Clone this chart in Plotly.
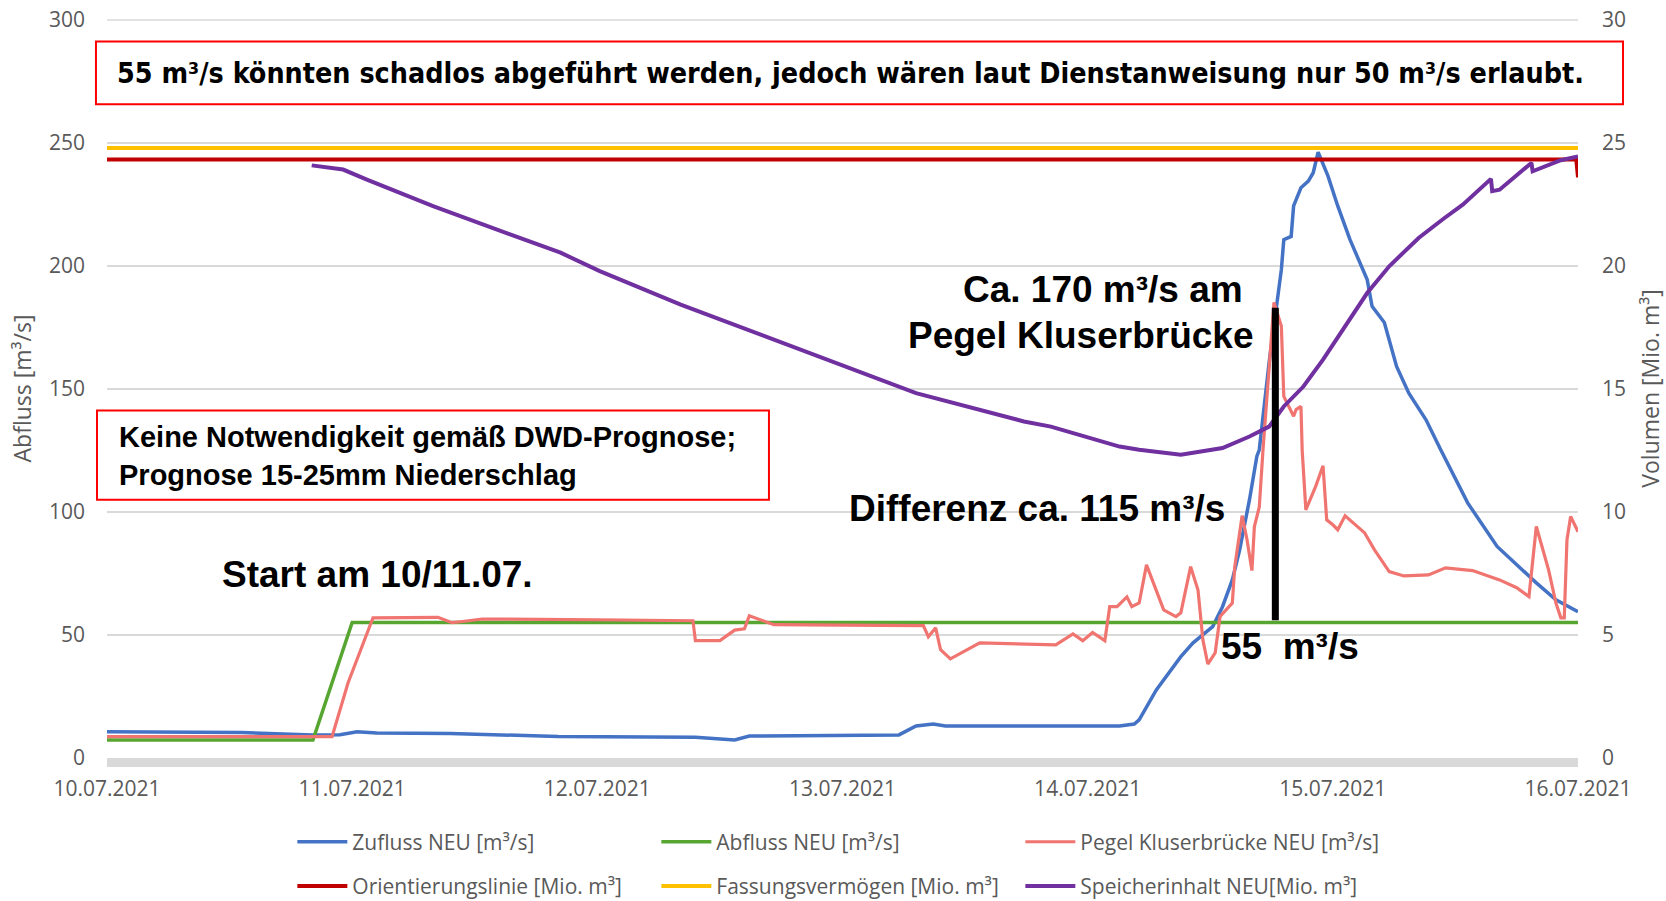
import pandas as pd
import plotly.graph_objects as go

START = pd.Timestamp("2021-07-10")

# ---- data (time as day offsets from 10.07.2021 00:00) ----
tick_days = [0, 1, 2, 3, 4, 5, 6]
tick_labels = ["10.07.2021", "11.07.2021", "12.07.2021", "13.07.2021",
               "14.07.2021", "15.07.2021", "16.07.2021"]

zufluss_days = [0, 0.3, 0.55, 0.84, 0.95, 1.02, 1.1, 1.4, 1.84, 2.40, 2.56, 2.62, 3.0, 3.23,
                3.30, 3.37, 3.42, 3.85, 4.13, 4.19, 4.21, 4.28, 4.38, 4.43, 4.51, 4.55, 4.59,
                4.62, 4.66, 4.69, 4.70, 4.74, 4.77, 4.79, 4.80, 4.83, 4.84, 4.87, 4.90, 4.92,
                4.94, 4.98, 5.02, 5.07, 5.14, 5.16, 5.21, 5.26, 5.31, 5.38, 5.44, 5.55, 5.67,
                5.83, 5.91, 6.0]
zufluss_vals = [10.7, 10.6, 10.4, 9.3, 9.5, 10.7, 10.2, 10.0, 8.7, 8.4, 7.3, 8.9, 9.2, 9.4,
                13.0, 13.8, 13.0, 13.0, 13.0, 13.8, 15.5, 27.7, 41.2, 46.8, 53.4, 61.5, 72.4,
                84.6, 105.0, 122.6, 125.3, 160.7, 183.6, 198.5, 210.7, 212.0, 224.4, 231.8,
                234.5, 237.9, 246.3, 236.6, 224.4, 210.7, 194.5, 183.6, 177.0, 159.2, 148.3,
                137.5, 125.3, 103.7, 86.0, 71.2, 64.3, 59.5]

abfluss_days = [0, 0.84, 1.0, 6.0]
abfluss_vals = [7.3, 7.3, 55.1, 55.1]

pegel_days = [0, 0.5, 0.918, 0.983, 1.085, 1.35, 1.407, 1.45, 1.53, 2.0, 2.39, 2.40, 2.50,
              2.56, 2.60, 2.62, 2.72, 3.0, 3.33, 3.35, 3.38, 3.40, 3.44, 3.56, 3.87, 3.94,
              3.98, 4.02, 4.07, 4.09, 4.12, 4.16, 4.18, 4.21, 4.24, 4.31, 4.36, 4.38, 4.42,
              4.45, 4.47, 4.49, 4.52, 4.54, 4.59, 4.60, 4.63, 4.65, 4.67, 4.68, 4.70, 4.715,
              4.76, 4.79, 4.80, 4.84, 4.85, 4.87, 4.875, 4.89, 4.93, 4.96, 4.975, 5.00, 5.02,
              5.05, 5.13, 5.17, 5.23, 5.29, 5.39, 5.46, 5.57, 5.68, 5.75, 5.80, 5.83, 5.88,
              5.91, 5.93, 5.944, 5.955, 5.97, 6.0]
pegel_vals = [8.7, 8.6, 8.7, 30.5, 57.0, 57.2, 55.0, 55.5, 56.5, 56.2, 55.8, 47.7, 47.7,
              52.0, 52.5, 57.8, 54.2, 54.0, 53.8, 49.3, 52.9, 44.0, 40.3, 46.8, 46.0, 50.4,
              47.7, 51.0, 47.7, 61.5, 61.5, 65.5, 61.5, 63.0, 78.5, 60.2, 57.5, 59.0, 77.8,
              68.3, 48.0, 38.2, 42.7, 57.5, 63.0, 77.8, 98.5, 88.7, 76.2, 94.1, 102.0, 125.0,
              185.2, 175.5, 147.0, 138.9, 141.6, 142.9, 125.0, 100.9, 110.4, 118.8, 96.8,
              94.8, 92.8, 98.5, 91.5, 84.6, 75.8, 74.0, 74.4, 77.3, 76.2, 72.4, 69.2, 65.6,
              94.1, 76.5, 63.0, 57.0, 57.0, 88.7, 98.2, 92.0]

orient_days = [0, 5.993, 6.0]
orient_vals = [24.33, 24.33, 23.6]

fassung_days = [0, 6.0]
fassung_vals = [24.8, 24.8]

speicher_days = [0.835, 0.963, 1.06, 1.33, 1.85, 2.01, 2.34, 2.77, 3.30, 3.74, 3.85, 4.13,
                 4.21, 4.38, 4.55, 4.66, 4.74, 4.80, 4.88, 4.96, 5.07, 5.14, 5.23, 5.35, 5.45,
                 5.53, 5.645, 5.65, 5.68, 5.81, 5.815, 5.93, 6.0]
speicher_vals = [24.09, 23.92, 23.51, 22.43, 20.54, 19.79, 18.43, 16.8, 14.83, 13.68, 13.47,
                 12.66, 12.53, 12.33, 12.6, 13.07, 13.47, 14.29, 15.1, 16.19, 17.82, 18.9,
                 19.99, 21.14, 21.91, 22.49, 23.54, 23.04, 23.1, 24.19, 23.85, 24.3, 24.45]

marker_day = 4.7655          # black vertical marker (Pegel peak vs. 55 m³/s)
marker_range = [56, 183]
y_max = 300


def to_time(days):
    return [START + pd.Timedelta(days=d) for d in days]


GRAY = "#595959"
GRID = "#D9D9D9"
TICKFONT = dict(family="Open Sans, sans-serif", size=21, color=GRAY)
TITLEFONT = dict(family="Open Sans, sans-serif", size=23, color=GRAY)
BOLD = "Liberation Sans, Arial, sans-serif"

fig = go.Figure()

series = [
    ("Zufluss NEU [m³/s]", zufluss_days, zufluss_vals, "#4472C4", "y", "legend", 3.5),
    ("Abfluss NEU [m³/s]", abfluss_days, abfluss_vals, "#58A632", "y", "legend", 3.5),
    ("Pegel Kluserbrücke NEU [m³/s]", pegel_days, pegel_vals, "#F07470", "y", "legend", 3.2),
    ("Orientierungslinie [Mio. m³]", orient_days, orient_vals, "#C00000", "y2", "legend2", 4),
    ("Fassungsvermögen [Mio. m³]", fassung_days, fassung_vals, "#FFC000", "y2", "legend2", 4),
    ("Speicherinhalt NEU[Mio. m³]", speicher_days, speicher_vals, "#7030A0", "y2", "legend2", 4),
]
for name, d, v, col, yax, leg, w in series:
    fig.add_trace(go.Scatter(x=to_time(d), y=v, name=name, mode="lines",
                             line=dict(color=col, width=w), yaxis=yax, legend=leg))

LEGFONT = dict(family="Open Sans, sans-serif", size=21, color=GRAY)
fig.update_layout(
    width=1666, height=901,
    margin=dict(l=107, r=88, t=19, b=143, autoexpand=False),
    paper_bgcolor="white", plot_bgcolor="white",
    hovermode=False,
    xaxis=dict(type="date", automargin=False,
               range=[START, START + pd.Timedelta(days=6)],
               tickvals=to_time(tick_days), ticktext=tick_labels,
               showgrid=False, zeroline=False,
               showline=True, linecolor=GRID, linewidth=9,
               ticks="", ticklabelstandoff=4, tickfont=TICKFONT, ticklabeloverflow="allow"),
    yaxis=dict(range=[0, 300.4], dtick=50, showgrid=True, gridcolor=GRID, gridwidth=1.5,
               automargin=False, zeroline=False, ticks="", ticklabelstandoff=21,
               tickfont=TICKFONT, ticklabeloverflow="allow",
               title=dict(text="Abfluss [m³/s]", font=TITLEFONT, standoff=10)),
    yaxis2=dict(range=[0, 30.04], dtick=5, overlaying="y", side="right", showgrid=False,
                automargin=False, zeroline=False, ticks="", ticklabelstandoff=23,
                tickfont=TICKFONT, ticklabeloverflow="allow",
                title=dict(text="Volumen [Mio. m³]", font=TITLEFONT, standoff=18)),
    legend=dict(orientation="h", x=0.126, xanchor="left", y=-0.1138, yanchor="middle",
                entrywidth=299, entrywidthmode="pixels", itemwidth=50, font=LEGFONT),
    legend2=dict(orientation="h", x=0.126, xanchor="left", y=-0.1738, yanchor="middle",
                 entrywidth=299, entrywidthmode="pixels", itemwidth=50, font=LEGFONT),
    showlegend=True,
)

# top gridline (plotly drops gridlines at the range edge)
fig.add_shape(type="line", xref="paper", yref="y", x0=0, x1=1, y0=y_max, y1=y_max,
              line=dict(color=GRID, width=1.5), layer="below")
# boxes
fig.add_shape(type="rect", xref="paper", yref="paper", x0=-0.0075, x1=1.0306, y0=0.8848,
              y1=0.9695, line=dict(color="#FF0000", width=2), fillcolor="white", layer="above")
fig.add_shape(type="rect", xref="paper", yref="paper", x0=-0.0068, x1=0.450, y0=0.3496,
              y1=0.4702, line=dict(color="#FF0000", width=2), fillcolor="white", layer="above")
# black marker line
mx = START + pd.Timedelta(days=marker_day)
fig.add_shape(type="line", xref="x", yref="y", x0=mx, x1=mx, y0=marker_range[0],
              y1=marker_range[1], line=dict(color="black", width=7), layer="above")

ann = [
    ("<b>55 m³/s könnten schadlos abgeführt werden, jedoch wären laut Dienstanweisung nur 50 m³/s erlaubt.</b>",
     0.5051, 0.9268, "center", "DejaVu Sans Condensed, sans-serif", 28.4),
    ("<b>Keine Notwendigkeit gemäß DWD-Prognose;<br>Prognose 15-25mm Niederschlag</b>",
     0.0068, 0.4085, "left", BOLD, 29),
    ("<b>Start am 10/11.07.</b>", 0.1842, 0.248, "center", BOLD, 37),
    ("<b>Differenz ca. 115 m³/s</b>", 0.6319, 0.3374, "center", BOLD, 37),
    ("<b>55\u00a0 m³/s</b>", 0.8042, 0.1504, "center", BOLD, 37),
    ("<b>Ca. 170 m³/s am</b>", 0.6774, 0.6341, "center", BOLD, 37),
    ("<b>Pegel Kluserbrücke</b>", 0.6615, 0.5718, "center", BOLD, 37),
]
for text, x, y, anchor, fam, size in ann:
    fig.add_annotation(text=text, xref="paper", yref="paper", x=x, y=y, xanchor=anchor,
                       yanchor="middle", showarrow=False, align=anchor,
                       font=dict(family=fam, size=size, color="black"))

fig.write_html("out.html", config={"displayModeBar": False},
               post_script="document.body.style.margin='0px';")
